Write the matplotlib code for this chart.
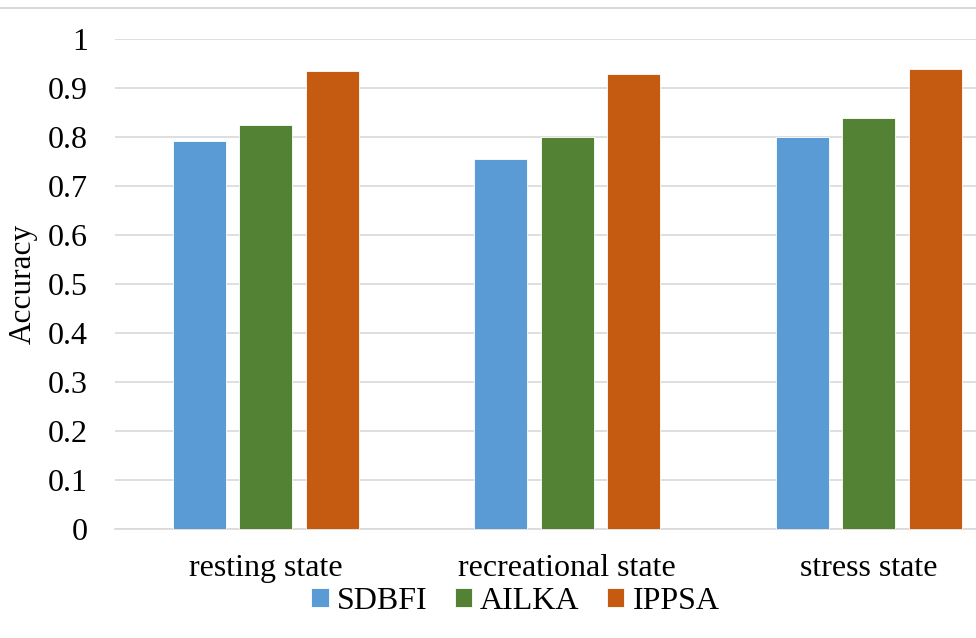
import matplotlib.pyplot as plt
import numpy as np
from matplotlib.lines import Line2D

categories = ["resting state", "recreational state", "stress state"]
methods = ["SDBFI", "AILKA", "IPPSA"]
sdbfi = [0.792, 0.756, 0.801]
ailka = [0.824, 0.801, 0.838]
ippsa = [0.935, 0.928, 0.938]
yticks = [0, 0.1, 0.2, 0.3, 0.4, 0.5, 0.6, 0.7, 0.8, 0.9, 1]
ytick_labels = ["0", "0.1", "0.2", "0.3", "0.4", "0.5", "0.6", "0.7", "0.8", "0.9", "1"]


def plot_chart():
    plt.rcParams['font.family'] = ['Liberation Serif', 'DejaVu Serif']
    colors = ["#5B9BD5", "#548235", "#C55A11"]
    grid_color = "#D9D9D9"

    fig = plt.figure(figsize=(9.76, 6.38), dpi=100)
    ax = fig.add_axes([0.1178, 0.1708, 0.8822, 0.7681])

    x = np.arange(len(categories))
    width = 0.176
    step = 0.2206
    for i, (name, vals) in enumerate(zip(methods, [sdbfi, ailka, ippsa])):
        ax.bar(x + (i - 1) * step, vals, width, color=colors[i],
               edgecolor="white", linewidth=0.6, label=name, zorder=3)

    ax.set_xlim(-0.5, 2.356)
    ax.set_ylim(0, 1)
    ax.set_yticks(yticks)
    ax.set_yticklabels(ytick_labels, fontsize=23)
    ax.set_xticks(x)
    ax.set_xticklabels(categories, fontsize=23)
    ax.tick_params(axis="both", length=0, colors="#000000")
    ax.tick_params(axis="y", pad=19.5)
    ax.tick_params(axis="x", pad=18)

    # Horizontal gridlines only, light gray
    ax.grid(axis="y", color=grid_color, linewidth=1.2, zorder=0)
    for side in ["top", "right", "left"]:
        ax.spines[side].set_visible(False)
    ax.spines["bottom"].set_color(grid_color)
    ax.spines["bottom"].set_linewidth(1.2)

    ax.set_ylabel("Accuracy", fontsize=22.5, labelpad=7)

    # Chart frame line along the top
    fig.add_artist(Line2D([0, 1], [0.9875, 0.9875], color=grid_color,
                          linewidth=1.5, transform=fig.transFigure))

    ax.legend(loc="center", bbox_to_anchor=(0.465, -0.147), ncol=3,
              frameon=False, fontsize=23, handlelength=0.55, handleheight=0.55,
              handletextpad=0.25, columnspacing=0.85)

    fig.savefig("out.png", dpi=100)


if __name__ == '__main__':
    plot_chart()
